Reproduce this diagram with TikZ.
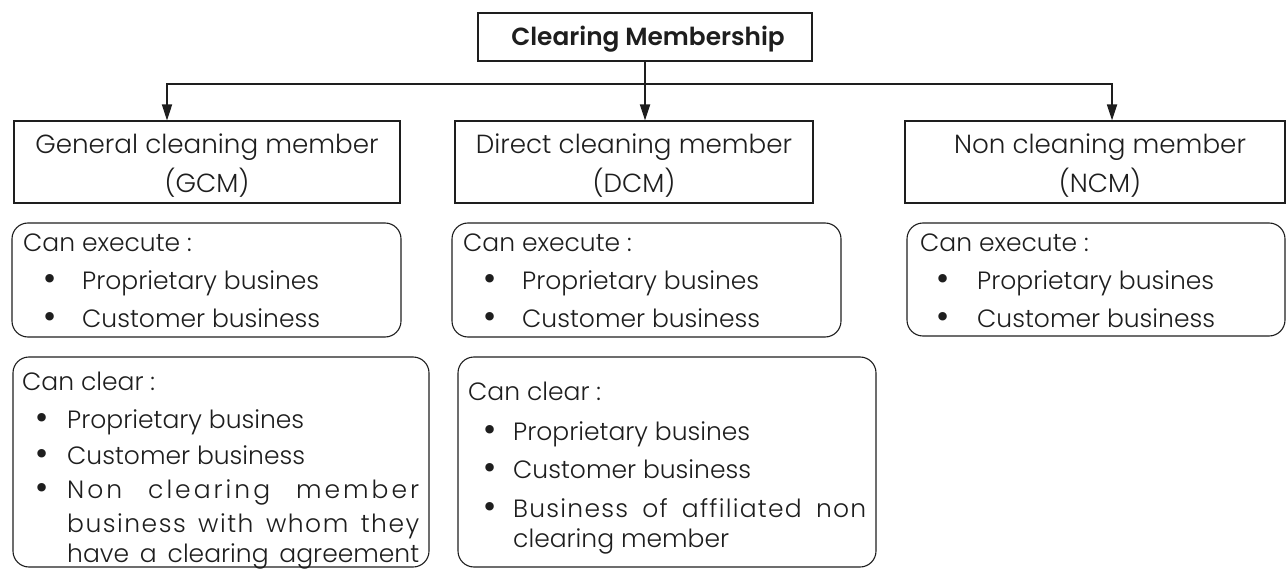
\documentclass[tikz,border=0pt]{standalone}
\usepackage{fontspec}
\setmainfont{Poppins Light}
\newfontfamily\topfont{Poppins SemiBold}
\newfontfamily\bulfont{DejaVu Sans}
\usetikzlibrary{arrows.meta}
\definecolor{ink}{HTML}{1E1E1E}
\begin{document}
\begin{tikzpicture}[x=1pt,y=-1pt,
  every node/.style={text=ink},
  hbox/.style={draw=ink, line width=1.1pt, minimum height=82pt, inner sep=0pt},
  htxt/.style={anchor=base, inner sep=0pt, font=\fontsize{26.2}{32}\selectfont},
  rbox/.style={draw=ink, line width=1.1pt, rounded corners=16pt, inner sep=0pt},
  conn/.style={draw=ink, line width=1.8pt, -{Triangle[length=16pt,width=10pt]}},
  txt/.style={anchor=base west, inner sep=0pt, font=\fontsize{25}{30}\selectfont},
  bul/.style={anchor=base, inner sep=0pt, font=\bulfont\fontsize{29}{32}\selectfont},
]
\useasboundingbox (0,0) rectangle (1287,569);

% top box
\node[draw=ink, line width=1.1pt, minimum width=334pt, minimum height=48pt, inner sep=0pt] (top) at (645,37) {};
\node[anchor=base, inner sep=0pt, font=\topfont\fontsize{24.8}{28}\selectfont] (toptxt) at (648,46) {Clearing Membership};

% header boxes
\node[hbox, minimum width=386pt] (gcm) at (207,162) {};
\node[hbox, minimum width=358pt] (dcm) at (634,162) {};
\node[hbox, minimum width=380pt] (ncm) at (1095,162) {};
\node[htxt] (gcm1) at (207,154) {General cleaning member};
\node[htxt] (gcm2) at (207,193) {(GCM)};
\node[htxt] (dcm1) at (634,154) {Direct cleaning member};
\node[htxt] (dcm2) at (634,193) {(DCM)};
\node[htxt] (ncm1) at (1100,154) {Non cleaning member};
\node[htxt] (ncm2) at (1100,193) {(NCM)};

\coordinate (jl) at (167,84);
\coordinate (jr) at (1112,84);
\draw[conn] (top.south) |- (jl) -- (jl |- gcm.north);
\draw[conn] (top.south) |- (jr) -- (jr |- ncm.north);
\draw[conn] (top.south) -- (top.south |- dcm.north);

% execute boxes
\node[rbox, minimum width=389pt, minimum height=114pt] (ex1) at (206.5,280) {};
\node[rbox, minimum width=389pt, minimum height=114pt] (ex2) at (646.5,280) {};
\node[rbox, minimum width=378pt, minimum height=113pt] (ex3) at (1096,279.5) {};

\node[txt] (e1h) at (23,252) {Can execute :};
\node[bul] (e1b1) at (50,290) {•};
\node[txt] (e1i1) at (82,290) {Proprietary busines};
\node[bul] (e1b2) at (50,327) {•};
\node[txt] (e1i2) at (82,327) {Customer business};

\node[txt] (e2h) at (463,252) {Can execute :};
\node[bul] (e2b1) at (490,290) {•};
\node[txt] (e2i1) at (522,290) {Proprietary busines};
\node[bul] (e2b2) at (490,327) {•};
\node[txt] (e2i2) at (522,327) {Customer business};

\node[txt] (e3h) at (920,252) {Can execute :};
\node[bul] (e3b1) at (943,290) {•};
\node[txt] (e3i1) at (977,290) {Proprietary busines};
\node[bul] (e3b2) at (943,327) {•};
\node[txt] (e3i2) at (977,327) {Customer business};

% clear boxes
\node[rbox, minimum width=416pt, minimum height=210pt] (cl1) at (221,462) {};
\node[rbox, minimum width=418pt, minimum height=210pt] (cl2) at (667,462) {};

\node[txt] (c1h) at (22,390) {Can clear :};
\node[bul] (c1b1) at (42,428) {•};
\node[txt] (c1i1) at (67,428) {Proprietary busines};
\node[bul] (c1b2) at (42,464) {•};
\node[txt] (c1i2) at (67,464) {Customer business};
\node[bul] (c1b3) at (42,498) {•};
\node[txt] (c1i3) at (67,498) {\makebox[352pt][s]{\addfontfeature{LetterSpace=12}Non clearing member}};
\node[txt] (c1i4) at (67,532) {\makebox[352pt][s]{\addfontfeature{LetterSpace=6}business with whom they}};
\node[txt] (c1i5) at (67,562) {\makebox[352pt][s]{have a clearing agreement}};

\node[txt] (c2h) at (468,400) {Can clear :};
\node[bul] (c2b1) at (490,440) {•};
\node[txt] (c2i1) at (513,440) {Proprietary busines};
\node[bul] (c2b2) at (490,478) {•};
\node[txt] (c2i2) at (513,478) {Customer business};
\node[bul] (c2b3) at (490,517) {•};
\node[txt] (c2i3) at (513,517) {\makebox[353pt][s]{\addfontfeature{LetterSpace=5}Business of affiliated non}};
\node[txt] (c2i4) at (513,547) {clearing member};
\end{tikzpicture}
\end{document}
